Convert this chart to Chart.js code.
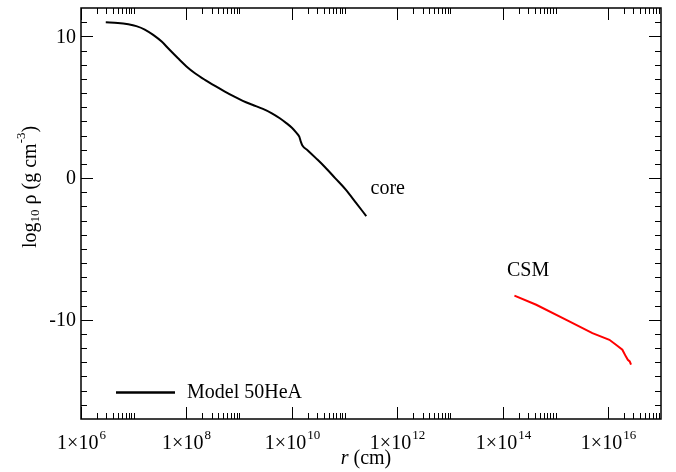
<!DOCTYPE html>
<html>
<head>
<meta charset="utf-8">
<script src="https://cdn.jsdelivr.net/npm/chart.js@4/dist/chart.umd.min.js"></script>
<style>
  body { margin: 0; background: #fff; }
  canvas { display: block; }
</style>
</head>
<body>
<canvas id="chart" width="676" height="472"></canvas>
<script>
// core profile (r in cm, log10 rho)
const coreR = [2.95e6, 5.0e6, 7.9e6, 1.12e7, 1.62e7, 2.34e7, 3.39e7, 4.79e7, 6.92e7, 1.0e8,
  1.45e8, 2.24e8, 3.55e8, 5.25e8, 7.94e8, 1.17e9, 1.78e9, 2.82e9, 4.17e9, 5.89e9, 7.94e9,
  1.0e10, 1.2e10, 1.38e10, 1.48e10, 1.58e10, 2.0e10, 2.88e10, 4.17e10, 6.6e10, 1.07e11,
  1.66e11, 2.57e11];
const coreRho = [10.99, 10.95, 10.85, 10.72, 10.48, 10.1, 9.63, 9.05, 8.45, 7.88,
  7.40, 6.93, 6.48, 6.12, 5.76, 5.45, 5.17, 4.88, 4.57, 4.22, 3.86,
  3.55, 3.22, 2.92, 2.55, 2.30, 1.95, 1.39, 0.80, 0.0, -0.85,
  -1.77, -2.68];

// circumstellar material
const csmR = [1.66e14, 4.3e14, 1.6e15, 5.0e15, 1.05e16, 1.4e16, 1.85e16, 2.15e16, 2.35e16, 2.55e16, 2.7e16];
const csmRho = [-8.29, -8.94, -10.0, -10.94, -11.41, -11.76, -12.11, -12.58, -12.82, -12.94, -13.17];

const xMajorExp = [6, 8, 10, 12, 14, 16];
const yMajor = [-10, 0, 10];
const legendLabel = 'Model 50HeA';

const FONT = '"Liberation Serif", "Times New Roman", serif';

const toPts = (xs, ys) => xs.map((x, i) => ({x: x, y: ys[i]}));

const framePlugin = {
  id: 'frame',
  afterDraw(chart) {
    const ctx = chart.ctx;
    const a = chart.chartArea;
    const xs = chart.scales.x, ys = chart.scales.y;
    ctx.save();
    ctx.strokeStyle = '#000';
    ctx.fillStyle = '#000';

    // box
    ctx.lineWidth = 1.5;
    ctx.strokeRect(a.left, a.top, a.right - a.left, a.bottom - a.top);

    ctx.lineWidth = 1;
    const major = 12, minor = 6;
    // x ticks (minor pattern: 2..9 of every even decade, plus the odd decade)
    for (let e = 6; e < 17; e += 2) {
      const vals = [];
      for (let k = 2; k <= 9; k++) vals.push(k * Math.pow(10, e));
      vals.push(Math.pow(10, e + 1));
      vals.forEach(v => {
        const px = Math.round(xs.getPixelForValue(v)) + 0.5;
        if (px <= a.left || px >= a.right) return;
        ctx.beginPath();
        ctx.moveTo(px, a.bottom); ctx.lineTo(px, a.bottom - minor);
        ctx.moveTo(px, a.top); ctx.lineTo(px, a.top + minor);
        ctx.stroke();
      });
    }
    xMajorExp.forEach(e => {
      const px = Math.round(xs.getPixelForValue(Math.pow(10, e))) + 0.5;
      ctx.beginPath();
      ctx.moveTo(px, a.bottom); ctx.lineTo(px, a.bottom - major);
      ctx.moveTo(px, a.top); ctx.lineTo(px, a.top + major);
      ctx.stroke();
      // label 1x10^e
      const base = '1\u00d710', sup = String(e);
      ctx.font = '20px ' + FONT;
      const wb = ctx.measureText(base).width;
      ctx.font = '13px ' + FONT;
      const ws = ctx.measureText(sup).width;
      const x0 = px - (wb + ws + 1) / 2;
      ctx.textAlign = 'left';
      ctx.textBaseline = 'alphabetic';
      ctx.font = '20px ' + FONT;
      ctx.fillText(base, x0, 449);
      ctx.font = '13px ' + FONT;
      ctx.fillText(sup, x0 + wb + 1, 439);
    });

    // y ticks
    for (let v = -16; v <= 11; v++) {
      const py = Math.round(ys.getPixelForValue(v)) + 0.5;
      const len = yMajor.includes(v) ? major : minor;
      ctx.beginPath();
      ctx.moveTo(a.left, py); ctx.lineTo(a.left + len, py);
      ctx.moveTo(a.right, py); ctx.lineTo(a.right - len, py);
      ctx.stroke();
    }
    ctx.font = '20px ' + FONT;
    ctx.textAlign = 'right';
    ctx.textBaseline = 'middle';
    yMajor.forEach(v => {
      ctx.fillText(String(v), a.left - 5, ys.getPixelForValue(v) + 1);
    });

    // x title
    ctx.textBaseline = 'alphabetic';
    ctx.textAlign = 'left';
    ctx.font = 'italic 20px ' + FONT;
    const wr = ctx.measureText('r').width;
    ctx.font = '20px ' + FONT;
    const wrest = ctx.measureText(' (cm)').width;
    const tx = 366 - (wr + wrest) / 2;
    ctx.font = 'italic 20px ' + FONT;
    ctx.fillText('r', tx, 464);
    ctx.font = '20px ' + FONT;
    ctx.fillText(' (cm)', tx + wr, 464);

    // y title (rotated)
    ctx.save();
    ctx.translate(36, 248);
    ctx.rotate(-Math.PI / 2);
    const parts = [
      ['log', 20, 0], ['10', 13, 3], [' \u03c1 (g cm', 20, 0], ['-3', 13, -11], [')', 20, 0]
    ];
    let cx = 0;
    parts.forEach(p => {
      ctx.font = p[1] + 'px ' + FONT;
      ctx.fillText(p[0], cx, p[2]);
      cx += ctx.measureText(p[0]).width;
    });
    ctx.restore();

    // curve labels
    ctx.font = '20px ' + FONT;
    ctx.fillText('core', xs.getPixelForValue(3.1e11), ys.getPixelForValue(-1.13));
    ctx.fillText('CSM', xs.getPixelForValue(1.2e14), ys.getPixelForValue(-6.9));

    // legend
    ctx.lineWidth = 2.5;
    ctx.beginPath();
    ctx.moveTo(116, 392.5); ctx.lineTo(175, 392.5);
    ctx.stroke();
    ctx.textBaseline = 'middle';
    ctx.fillText(chart.data.datasets[0].label, 187, 393);

    ctx.restore();
  }
};

new Chart(document.getElementById('chart'), {
  type: 'line',
  data: {
    datasets: [
      {
        label: legendLabel,
        data: toPts(coreR, coreRho),
        borderColor: '#000',
        borderWidth: 2,
        pointRadius: 0,
        cubicInterpolationMode: 'monotone',
        fill: false
      },
      {
        label: 'CSM',
        data: toPts(csmR, csmRho),
        borderColor: '#ff0000',
        borderWidth: 2,
        pointRadius: 0,
        tension: 0,
        fill: false
      }
    ]
  },
  options: {
    responsive: false,
    animation: false,
    layout: { padding: { left: 81, top: 8, right: 15, bottom: 53 } },
    plugins: { legend: { display: false }, tooltip: { enabled: false } },
    scales: {
      x: { type: 'logarithmic', min: 1e6, max: 1e17, display: false },
      y: { type: 'linear', min: -17, max: 12, display: false }
    }
  },
  plugins: [framePlugin]
});
</script>
</body>
</html>
